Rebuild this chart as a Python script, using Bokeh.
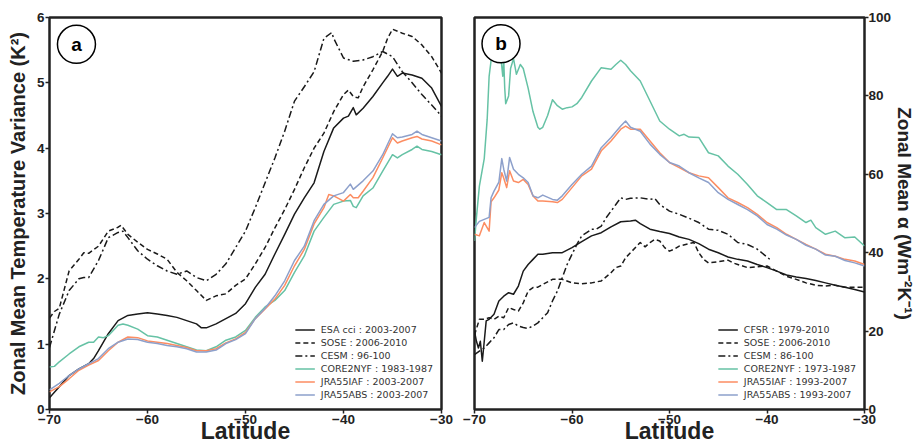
from bokeh.plotting import figure
from bokeh.layouts import row
from bokeh.models import Legend, LegendItem, Label, FixedTicker
from bokeh.embed import file_html
from bokeh.resources import INLINE

# ---------------- Panel a : zonal mean temperature variance (K^2) ----------------
a_esa_lat = [-70, -69, -68, -67, -66, -65.5, -65, -64, -63, -62, -61, -60, -59, -58, -57, -56, -55, -54.5, -54, -53,
             -52, -51, -50, -49, -48, -47, -46, -45, -44, -43, -42, -41, -40, -39.5, -39, -38.7, -38, -37, -36, -35.5,
             -35, -34.5, -34, -33, -32, -31, -30]
a_esa_val = [0.18, 0.35, 0.52, 0.62, 0.70, 0.78, 0.90, 1.16, 1.36, 1.44, 1.46, 1.48, 1.46, 1.44, 1.41, 1.36, 1.31, 1.25,
             1.25, 1.31, 1.39, 1.47, 1.62, 1.87, 2.07, 2.38, 2.68, 2.99, 3.24, 3.47, 3.95, 4.31, 4.46, 4.49, 4.62, 4.51,
             4.61, 4.79, 5.00, 5.10, 5.21, 5.10, 5.15, 5.12, 5.07, 4.92, 4.64]

a_sose_lat = [-70, -69.5, -69, -68, -67, -66.5, -66, -65, -64, -63, -62.7, -62, -61, -60, -59, -58, -57, -56, -55, -54,
              -53, -52, -51, -50, -49, -48, -47, -46, -45, -44, -43, -42, -41, -40, -39.5, -39, -38.5, -38, -37, -36,
              -35.5, -35, -34, -33, -32, -31, -30]
a_sose_val = [1.40, 1.50, 1.55, 2.12, 2.30, 2.40, 2.39, 2.50, 2.73, 2.79, 2.82, 2.68, 2.56, 2.45, 2.38, 2.30, 2.10, 1.97,
              1.82, 1.67, 1.74, 1.77, 1.90, 2.00, 2.23, 2.48, 2.78, 3.06, 3.37, 3.70, 4.00, 4.23, 4.56, 4.82, 4.89, 4.79,
              4.77, 4.94, 5.20, 5.48, 5.68, 5.82, 5.76, 5.71, 5.58, 5.40, 5.15]

a_cesm_lat = [-70, -69, -68, -67, -66.5, -66, -65, -64, -63, -62.5, -62, -61, -60, -59, -58, -57, -56, -55, -54, -53,
              -52, -51, -50, -49, -48, -47, -46, -45, -44, -43, -42, -41.2, -41, -40, -39, -38, -37, -36, -35, -34,
              -33, -32, -31, -30]
a_cesm_val = [0.95, 1.46, 1.82, 2.00, 2.02, 2.02, 2.28, 2.63, 2.71, 2.73, 2.63, 2.43, 2.30, 2.20, 2.12, 2.07, 2.12, 2.02,
              1.97, 2.07, 2.23, 2.48, 2.73, 3.09, 3.47, 3.85, 4.26, 4.72, 4.94, 5.17, 5.68, 5.77, 5.68, 5.38, 5.33, 5.35,
              5.40, 5.48, 5.40, 5.17, 5.00, 4.82, 4.66, 4.49]

a_core_lat = [-70, -69.5, -69, -68, -67, -66, -65.5, -65, -64.5, -64, -63, -62.5, -62, -61, -60, -59, -58, -57, -56,
              -55, -54, -53, -52, -51, -50, -49, -48, -47, -46, -45, -44, -43, -42, -41, -40, -39.3, -39, -38.7, -38,
              -37, -36, -35, -34.5, -34, -33, -32.5, -32, -31, -30]
a_core_val = [0.65, 0.66, 0.73, 0.85, 0.96, 1.03, 1.03, 1.11, 1.10, 1.13, 1.29, 1.31, 1.29, 1.23, 1.13, 1.11, 1.06, 1.01,
              0.96, 0.91, 0.90, 0.96, 1.06, 1.11, 1.21, 1.41, 1.57, 1.67, 1.82, 2.10, 2.35, 2.73, 2.94, 3.14, 3.19, 3.20,
              3.11, 3.09, 3.27, 3.39, 3.65, 3.90, 3.85, 3.90, 3.98, 4.03, 3.98, 3.95, 3.90]

a_iaf_lat = [-70, -69, -68, -67, -66, -65, -64, -63, -62, -61, -60, -59, -58, -57, -56, -55, -54, -53, -52, -51, -50,
             -49, -48, -47, -46, -45, -44, -43, -42, -41.5, -41, -40, -39.3, -39, -38.5, -38, -37, -36, -35, -34.5,
             -34, -33, -32.5, -32, -31, -30]
a_iaf_val = [0.27, 0.35, 0.47, 0.60, 0.68, 0.75, 0.90, 1.03, 1.11, 1.10, 1.05, 1.03, 1.01, 0.98, 0.95, 0.90, 0.90, 0.93,
             1.02, 1.08, 1.18, 1.39, 1.54, 1.69, 1.90, 2.20, 2.45, 2.84, 3.09, 3.29, 3.27, 3.19, 3.29, 3.24, 3.24, 3.34,
             3.55, 3.85, 4.16, 4.08, 4.11, 4.16, 4.18, 4.14, 4.11, 4.05]

a_abs_lat = [-70, -69, -68, -67, -66, -65, -64, -63, -62, -61, -60, -59, -58, -57, -56, -55, -54, -53, -52, -51, -50,
             -49, -48, -47, -46, -45, -44, -43, -42, -41, -40, -39.3, -39, -38, -37, -36, -35, -34.5, -34, -33, -32.5,
             -32, -31, -30]
a_abs_val = [0.30, 0.40, 0.52, 0.62, 0.70, 0.78, 0.93, 1.03, 1.08, 1.07, 1.03, 1.01, 0.98, 0.96, 0.93, 0.88, 0.88, 0.91,
             1.01, 1.07, 1.16, 1.39, 1.55, 1.74, 1.97, 2.28, 2.50, 2.89, 3.14, 3.27, 3.32, 3.45, 3.37, 3.50, 3.65, 3.90,
             4.22, 4.16, 4.17, 4.21, 4.26, 4.21, 4.16, 4.11]

a_labels = ["ESA cci : 2003-2007", "SOSE : 2006-2010", "CESM : 96-100",
            "CORE2NYF : 1983-1987", "JRA55IAF : 2003-2007", "JRA55ABS : 2003-2007"]

# ---------------- Panel b : zonal mean alpha (W m-2 K-1) ----------------
b_cfsr_lat = [-70, -69.8, -69.6, -69.4, -69.2, -69, -68.8, -68.5, -68, -67.5, -67, -66.5, -66, -65.5, -65, -64.5, -64,
              -63.5, -63, -62, -61, -60, -59, -58, -57, -56, -55, -54, -53.5, -53, -52, -51, -50, -49, -48, -47, -46,
              -45, -44, -43, -42, -41, -40, -39, -38, -37, -36, -35, -34, -33, -32, -31, -30]
b_cfsr_val = [20, 17.4, 15.7, 17.4, 12.3, 17.4, 22.6, 23, 24.3, 27.7, 28.9, 29.8, 29.4, 31.5, 35.3, 37, 38.3, 39.6,
              39.6, 40, 40, 41.3, 42.8, 44.3, 45.1, 46.6, 47.9, 48.1, 48.3, 47.4, 46, 45.4, 44.9, 44, 43.4, 42.3, 40.9,
              40, 38.9, 38.3, 37.9, 37, 36.2, 35.3, 34.3, 33.8, 33.4, 32.9, 32.3, 31.7, 31.2, 30.6, 30]

b_sose_lat = [-70, -69.5, -69, -68.5, -68, -67.5, -67, -66.5, -66, -65.5, -65, -64.5, -64, -63.5, -63, -62, -61, -60,
              -59, -58, -57, -56, -55.5, -55, -54.5, -54, -53, -52.5, -52, -51.5, -51, -50.5, -50, -49.5, -49, -48,
              -47.5, -47, -46.5, -46, -45, -44, -43.5, -43, -42, -41, -40, -39, -38, -37, -36, -35, -34, -33, -32,
              -31, -30]
b_sose_val = [19, 23, 23, 23.4, 23, 23.8, 23.4, 26, 25.5, 25.1, 27.2, 30.2, 31.1, 31.2, 31.9, 33.2, 33.2, 32.3, 32.1,
              32.3, 32.8, 34.9, 36.2, 36.6, 38.7, 40, 42.6, 41.5, 42.6, 43.4, 43, 41.3, 40.4, 40.9, 41.7, 42.3, 42.6,
              40, 38.3, 37.4, 37.7, 38.1, 37.4, 37, 36.2, 36.4, 36.6, 35.3, 34, 33.2, 32.3, 31.7, 31.5, 31.7, 31.2,
              31.2, 31.2]

b_cesm_lat = [-70, -69.5, -69, -68.5, -68, -67.5, -67, -66.5, -66, -65.5, -65, -64.5, -64, -63.5, -63, -62.5, -62,
              -61.5, -61, -60.5, -60, -59.5, -59, -58.5, -58, -57.5, -57, -56.5, -56, -55.5, -55, -54.5, -54, -53,
              -52, -51.5, -51, -50, -49, -48, -47, -46, -45, -44, -43, -42, -41, -40, -39.7]
b_cesm_val = [14, 14.9, 15.7, 17, 18.3, 20.4, 20.4, 21.7, 22.1, 21.3, 20.9, 20.7, 21.3, 22.1, 23.4, 24.7, 27.7, 30.2,
              33.6, 37, 39.6, 42.1, 44.3, 45.1, 46, 46, 46.8, 48.9, 50.6, 52.3, 54, 53.6, 53.9, 54, 53.6, 53.8, 52.3,
              50.6, 49.8, 48.8, 47.7, 46, 45.7, 44.7, 42.6, 42.1, 40.9, 38.9, 38.3]

b_core_lat = [-70, -69.8, -69.5, -69, -68.7, -68.5, -68.2, -68, -67.6, -67.3, -67.1, -67, -66.9, -66.8, -66.5, -66.3,
              -66, -65.7, -65.3, -65, -64.5, -64, -63.5, -63.3, -63, -62.5, -62, -61.5, -61, -60.5, -60, -59.5, -59,
              -58, -57, -56, -55.5, -55, -54.5, -54, -53, -52, -51, -50, -49, -48.5, -48, -47, -46, -45, -44, -43,
              -42, -41, -40, -39, -38, -37, -36, -35.5, -35, -34, -33, -32, -31, -30]
b_core_val = [43, 49, 57, 64, 74, 85, 91, 94, 95, 90, 85, 89, 82, 78, 80, 87, 89.5, 85.5, 88, 87, 82, 76, 72, 71.5, 72,
              75, 79, 77.5, 76.6, 77, 77.2, 78, 79.6, 83.8, 87.2, 86.8, 88, 89.1, 88, 86.4, 83.8, 78.7, 73.6, 71.5,
              69.8, 70.2, 69.5, 69.4, 65.5, 64.7, 62.1, 60, 57.4, 54.5, 52.8, 51, 51, 49.4, 47.7, 48.3, 46.4, 44.7,
              45.5, 43.8, 44, 41.7]

b_jra_lat = [-70, -69.5, -69, -68.5, -68.3, -68, -67.5, -67.2, -67, -66.7, -66.4, -66, -65.5, -65, -64.5, -64, -63.5,
             -63, -62, -61.5, -61, -60, -59, -58, -57, -56, -55, -54.5, -54, -53, -52, -51, -50, -49, -48, -47, -46,
             -45, -44, -43, -42, -41, -40, -39, -38, -37, -36, -35, -34, -33, -32, -31, -30]
b_iaf_val = [44.7, 44.3, 47.7, 45.5, 53, 54, 56, 60.4, 59, 56.6, 60.9, 58.3, 57.9, 58.7, 57.4, 54.5, 53.2, 53.2, 53,
             52.8, 53.6, 56.6, 59.6, 61.3, 66, 68.5, 71.5, 72.3, 71.5, 71.5, 68.5, 65.5, 63, 61.7, 60.4, 59.6, 59.1,
             56.6, 54, 52.8, 51.5, 49.8, 47.7, 46.4, 44.7, 43.4, 42.1, 40.9, 39.6, 39.1, 38.3, 37.9, 37]
b_abs_val = [46.4, 48, 48.5, 49, 54, 55.7, 58, 64, 61.3, 58.3, 64.3, 61.3, 60, 59.1, 57.9, 54.5, 54, 54.7, 53.6, 53.4,
             54.5, 57.4, 60, 62.1, 66.8, 69.4, 72.3, 73.6, 72, 71, 67.7, 65.1, 63, 62.1, 60.4, 59.1, 57.9, 55.3, 53.6,
             52.3, 51, 49.4, 47.2, 46, 44.5, 43.4, 41.9, 40.9, 39.4, 39.1, 38, 37.4, 36.6]

b_labels = ["CFSR : 1979-2010", "SOSE : 2006-2010", "CESM : 86-100",
            "CORE2NYF : 1973-1987", "JRA55IAF : 1993-2007", "JRA55ABS : 1993-2007"]

# ticks
x_ticks = [-70, -60, -50, -40, -30]
x_tick_labels = ["\u221270", "\u221260", "\u221250", "\u221240", "\u221230"]
a_y_ticks = [0, 1, 2, 3, 4, 5, 6]
b_y_ticks = [0, 20, 40, 60, 80, 100]

# styles
BLACK = "#1a1a1a"
GREEN = "#66c2a5"
ORANGE = "#fc8d62"
BLUE = "#8da0cb"
styles = [
    dict(color=BLACK, dash="solid"),
    dict(color=BLACK, dash="5 3"),
    dict(color=BLACK, dash="7 3 2 3"),
    dict(color=GREEN, dash="solid"),
    dict(color=ORANGE, dash="solid"),
    dict(color=BLUE, dash="solid"),
]
FONT = "Liberation Sans"
FRAME = "#222222"


def style_axes(p):
    p.grid.visible = False
    p.outline_line_color = FRAME
    p.outline_line_width = 2.5
    p.background_fill_color = "white"
    p.border_fill_color = "white"
    for ax in p.axis:
        ax.axis_line_color = None
        ax.major_tick_line_color = FRAME
        ax.major_tick_line_width = 1.5
        ax.major_tick_out = 4
        ax.major_tick_in = 0
        ax.minor_tick_line_color = None
        ax.major_label_text_font = FONT
        ax.major_label_text_font_style = "bold"
        ax.major_label_text_font_size = "13.5px"
        ax.major_label_text_color = FRAME
        ax.major_label_standoff = 1
        ax.axis_label_text_font = FONT
        ax.axis_label_text_font_style = "bold"
        ax.axis_label_text_color = FRAME
    p.xaxis.ticker = FixedTicker(ticks=x_ticks)
    p.xaxis.major_label_overrides = dict(zip(x_ticks, x_tick_labels))
    p.xaxis.axis_label = "Latitude"
    p.xaxis.axis_label_text_font_size = "23px"
    p.xaxis.axis_label_standoff = -9


def add_lines(p, series, labels):
    items = []
    for (xs, ys), lab, st in zip(series, labels, styles):
        r = p.line(xs, ys, line_color=st["color"], line_width=1.5, line_dash=st["dash"], line_join="round")
        items.append(LegendItem(label=lab, renderers=[r]))
    leg = Legend(items=items, location="bottom_right", border_line_color=None, background_fill_alpha=0,
                 label_text_font="DejaVu Sans", label_text_font_size="9.5px", label_text_color="#333333",
                 glyph_width=20, glyph_height=13, label_height=13, label_standoff=6, spacing=0,
                 padding=0, margin=8)
    p.add_layout(leg)


def add_tag(p, x, y, letter):
    p.scatter([x], [y], marker="circle", size=38, fill_color="white", line_color="black", line_width=1.5)
    p.add_layout(Label(x=x, y=y, text=letter, text_align="center", text_baseline="middle",
                       text_font=FONT, text_font_style="bold", text_font_size="19px", text_color="black"))


# ---------------- figure a ----------------
pa = figure(width=460, height=447, x_range=(-70, -30), y_range=(0, 6), output_backend="svg",
            toolbar_location=None, min_border_left=49, min_border_right=19, min_border_top=16,
            min_border_bottom=38)
style_axes(pa)
pa.yaxis.ticker = FixedTicker(ticks=a_y_ticks)
pa.yaxis.axis_label = "Zonal Mean Temperature Variance (K\u00b2)"
pa.yaxis.axis_label_text_font_size = "20px"
pa.yaxis.axis_label_standoff = 5
add_lines(pa, [(a_esa_lat, a_esa_val), (a_sose_lat, a_sose_val), (a_cesm_lat, a_cesm_val),
               (a_core_lat, a_core_val), (a_iaf_lat, a_iaf_val), (a_abs_lat, a_abs_val)], a_labels)
add_tag(pa, -67.25, 5.59, "a")

# ---------------- figure b ----------------
pb = figure(width=460, height=447, x_range=(-70, -30), y_range=(0, 100), output_backend="svg",
            toolbar_location=None, y_axis_location="right", min_border_left=14, min_border_right=56,
            min_border_top=17, min_border_bottom=38)
style_axes(pb)
pb.yaxis.ticker = FixedTicker(ticks=b_y_ticks)
pb.yaxis.axis_label = "Zonal Mean \u03b1 (Wm\u207b\u00b2K\u207b\u00b9)"
pb.yaxis.axis_label_text_font_size = "19px"
pb.yaxis.axis_label_standoff = 0
pb.yaxis.major_label_standoff = 0
add_lines(pb, [(b_cfsr_lat, b_cfsr_val), (b_sose_lat, b_sose_val), (b_cesm_lat, b_cesm_val),
               (b_core_lat, b_core_val), (b_jra_lat, b_iaf_val), (b_jra_lat, b_abs_val)], b_labels)
add_tag(pb, -67.28, 93.3, "b")

layout = row(pa, pb)
open("out.html", "w").write(file_html(layout, INLINE))
